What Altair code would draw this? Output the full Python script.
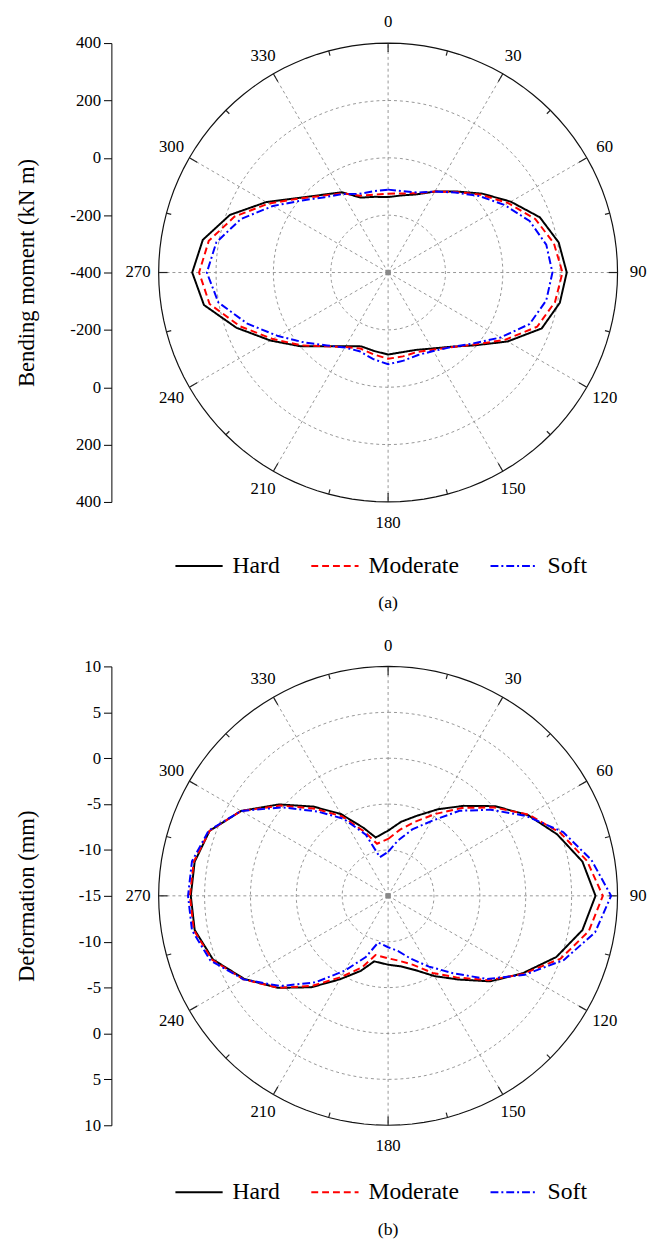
import altair as alt
import pandas as pd
import numpy as np

FONT = "Liberation Serif"

SERIES = ["Hard", "Moderate", "Soft"]
COLORS = ["#000000", "#ff0000", "#0000ff"]
DASHES = [[1, 0], [7, 4], [8, 3, 2, 3]]

# ---- panel (a): bending moment (kN m), radial axis from -400 (centre) to 400 (rim)
ANGLES_A = list(range(0, 360, 10))
HARD_A = [-137, -127, -110, -74, -31, 28, 94, 163, 204, 223, 208, 170, 81, -5, -62, -94, -113, -118,
          -114, -122, -126, -103, -64, 0, 74, 163, 252, 283, 256, 187, 91, 5, -46, -77, -122, -132]
MODERATE_A = [-125, -120, -106, -74, -33, 22, 84, 146, 187, 208, 191, 153, 70, -9, -60, -89, -105, -103,
              -99, -110, -118, -100, -64, -5, 64, 149, 232, 259, 235, 170, 81, 2, -50, -81, -115, -124]
SOFT_A = [-111, -112, -103, -74, -36, 15, 70, 125, 160, 173, 160, 125, 53, -15, -60, -84, -94, -88,
          -80, -94, -108, -98, -68, -20, 43, 122, 201, 232, 208, 146, 64, -9, -57, -84, -108, -112]
RANGE_A = [-400, 400]
RINGS_A = [-200, 0, 200]
NTICKS_A = 9

# ---- panel (b): deformation (mm), radial axis from -15 (centre) to 10 (rim)
ANGLES_B = [0, 10, 20, 30, 40, 50, 60, 70, 80, 90, 100, 110, 120, 130, 140, 150, 160, 170, 180,
            192, 200, 210, 220, 230, 240, 250, 260, 270, 280, 290, 300, 310, 320, 330, 340, 348]
HARD_B = [-7.9, -6.8, -5.7, -4.1, -2.2, 0.2, 2.6, 4.6, 6.5, 7.6, 6.5, 4.5, 1.9, -0.5, -3.1, -4.9, -6.4, -7.2,
          -7.5, -7.7, -6.3, -4.5, -2.0, 0.6, 3.1, 5.3, 6.4, 6.5, 6.4, 5.7, 3.5, 0.5, -2.3, -4.7, -7.1, -8.5]
MODERATE_B = [-8.8, -7.7, -6.4, -4.7, -2.5, 0.0, 2.7, 5.0, 7.0, 8.4, 7.2, 5.0, 2.0, -0.7, -3.4, -5.3, -7.0, -7.8,
              -8.2, -8.4, -6.7, -4.8, -2.2, 0.6, 3.2, 5.4, 6.5, 6.6, 6.5, 5.7, 3.5, 0.3, -2.6, -5.0, -7.6, -9.2]
SOFT_B = [-10.2, -8.9, -7.3, -5.6, -2.9, -0.4, 2.4, 5.3, 7.5, 9.3, 7.9, 5.4, 2.2, -0.9, -4.0, -6.1, -7.7, -8.9,
          -9.4, -9.8, -7.9, -5.6, -2.7, 0.3, 3.2, 5.6, 6.7, 6.8, 6.7, 5.8, 3.5, 0.0, -3.0, -5.3, -7.9, -10.7]
RANGE_B = [-15, 10]
RINGS_B = [-10, -5, 0, 5]
NTICKS_B = 11

ANGLE_LABELS = list(range(0, 360, 30))
R_PX = 233


def make_panel(angles, values, vrange, rings, nticks, ytitle, caption, legend_y):
    vmin, vmax = vrange
    span = vmax - vmin

    rows = []
    for name, vals in zip(SERIES, values):
        for i, (a, v) in enumerate(zip(angles, vals)):
            rows.append({"series": name, "angle": a, "value": v, "order": i})
        rows.append({"series": name, "angle": angles[0], "value": vals[0], "order": len(angles)})
    sdf = pd.DataFrame(rows)

    circ_angles = list(range(0, 361, 3))
    ring_df = pd.DataFrame([{"ring": rv, "angle": a, "value": rv} for rv in rings for a in circ_angles])
    outer_df = pd.DataFrame([{"angle": a, "value": vmax} for a in circ_angles])
    spoke_df = pd.DataFrame({"angle": list(range(0, 360, 30))})
    tick_df = pd.DataFrame({"angle": list(range(0, 360, 15))})
    tick_df["len"] = np.where(tick_df["angle"] % 30 == 0, 9, 5)
    lab_df = pd.DataFrame({"angle": ANGLE_LABELS, "label": [str(a) for a in ANGLE_LABELS]})
    ctr_df = pd.DataFrame({"value": [vmin], "angle": [0]})

    rexpr = f"(datum.value - ({vmin})) / {span}"
    xexpr = "datum.r * sin(datum.angle * PI / 180)"
    yexpr = "datum.r * cos(datum.angle * PI / 180)"

    yaxis = alt.Axis(
        values=[float(v) for v in np.linspace(-1, 1, nticks)],
        labelExpr=f"'' + round({vmin} + abs(datum.value) * {span})",
        offset=48, grid=False, tickSize=8, tickColor="black", domainColor="black",
        labelColor="black", labelFontSize=17, labelFont=FONT, labelPadding=3,
        title=ytitle, titleFont=FONT, titleFontSize=23, titleFontWeight="normal", titleColor="black",
        titleAngle=-90, titleX=-79, titleY=R_PX, titleAlign="center", titleBaseline="alphabetic",
    )
    X = alt.X("x:Q", scale=alt.Scale(domain=[-1, 1], nice=False, zero=False), axis=None)
    Y = alt.Y("y:Q", scale=alt.Scale(domain=[-1, 1], nice=False, zero=False), axis=yaxis)

    rings_l = alt.Chart(ring_df).mark_line(color="#8a8a8a", strokeDash=[3, 3], strokeWidth=0.9).transform_calculate(
        r=rexpr).transform_calculate(x=xexpr, y=yexpr).encode(x=X, y=Y, detail="ring:N", order="angle:Q")
    outer_l = alt.Chart(outer_df).mark_line(color="#111111", strokeWidth=1.2).transform_calculate(
        r=rexpr).transform_calculate(x=xexpr, y=yexpr).encode(x=X, y=Y, order="angle:Q")
    spokes_l = alt.Chart(spoke_df).mark_rule(color="#8a8a8a", strokeDash=[3, 3], strokeWidth=0.9).transform_calculate(
        x="0", y="0", x2="sin(datum.angle * PI / 180)", y2="cos(datum.angle * PI / 180)"
    ).encode(x=X, y=Y, x2="x2:Q", y2="y2:Q")
    ticks_l = alt.Chart(tick_df).mark_rule(color="#222222", strokeWidth=1.2).transform_calculate(
        rin=f"1 - datum.len / {R_PX}"
    ).transform_calculate(
        x="sin(datum.angle * PI / 180)", y="cos(datum.angle * PI / 180)",
        x2="datum.rin * sin(datum.angle * PI / 180)", y2="datum.rin * cos(datum.angle * PI / 180)"
    ).encode(x=X, y=Y, x2="x2:Q", y2="y2:Q")
    ctr_l = alt.Chart(ctr_df).mark_square(color="#888888", size=30, opacity=1).transform_calculate(
        r=rexpr).transform_calculate(x=xexpr, y=yexpr).encode(x=X, y=Y)
    labs_l = alt.Chart(lab_df).mark_text(font=FONT, fontSize=17, color="black", align="center",
                                          baseline="middle").transform_calculate(
        r=f"1 + 21 / {R_PX}").transform_calculate(x=xexpr, y=yexpr).encode(x=X, y=Y, text="label:N")

    legend = alt.Legend(orient="none", legendX=16, legendY=legend_y, direction="horizontal", title=None,
                        symbolType="stroke", symbolSize=2300, symbolStrokeWidth=2,
                        labelFont=FONT, labelFontSize=24, labelColor="black", labelOffset=9,
                        columnPadding=28, padding=0, labelLimit=300)
    lines_l = alt.Chart(sdf).mark_line(strokeWidth=2).transform_calculate(
        r=rexpr).transform_calculate(x=xexpr, y=yexpr).encode(
        x=X, y=Y,
        color=alt.Color("series:N", scale=alt.Scale(domain=SERIES, range=COLORS), legend=legend),
        strokeDash=alt.StrokeDash("series:N", scale=alt.Scale(domain=SERIES, range=DASHES), legend=legend),
        order=alt.Order("order:Q"),
    )

    return alt.layer(rings_l, spokes_l, outer_l, ticks_l, ctr_l, labs_l, lines_l).properties(
        width=2 * R_PX, height=2 * R_PX,
        title=alt.TitleParams(caption, orient="bottom", anchor="middle", font=FONT, fontSize=18,
                              fontWeight="normal", color="black", offset=17),
    )


pa = make_panel(ANGLES_A, [HARD_A, MODERATE_A, SOFT_A], RANGE_A, RINGS_A, NTICKS_A,
                "Bending moment (kN m)", "(a)", 506)
pb = make_panel(ANGLES_B, [HARD_B, MODERATE_B, SOFT_B], RANGE_B, RINGS_B, NTICKS_B,
                "Deformation (mm)", "(b)", 509)

chart = alt.vconcat(pa, pb, spacing=24).resolve_legend(
    color="independent", strokeDash="independent"
).properties(
    padding={"left": 8, "top": -5, "right": 5, "bottom": 0}
).configure(font=FONT).configure_view(stroke=None)

chart.save("out.html", embed_options={"renderer": "svg", "actions": False})
